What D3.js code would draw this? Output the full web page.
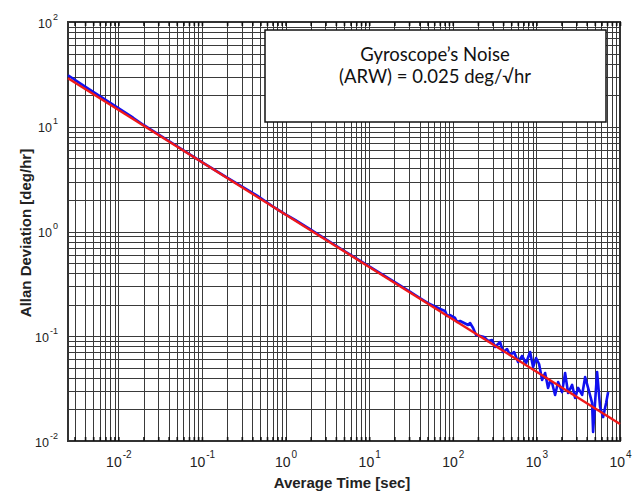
<!DOCTYPE html>
<html><head><meta charset="utf-8">
<script src="https://cdn.jsdelivr.net/npm/d3@7"></script>
<style>
html,body{margin:0;padding:0;background:#fff;}
svg{display:block;}
</style></head>
<body>
<svg id="chart" width="640" height="491"></svg>
<script>
// ---- data ----
const xTickValues = [1e-2, 1e-1, 1e0, 1e1, 1e2, 1e3, 1e4];
const xTickExponents = ["-2", "-1", "0", "1", "2", "3", "4"];
const yTickValues = [1e-2, 1e-1, 1e0, 1e1, 1e2];
const yTickExponents = ["-2", "-1", "0", "1", "2"];

// measured Allan deviation (blue)
const blueTau = [0.0025, 0.004, 0.006, 0.01, 0.015, 0.02, 0.05, 0.1, 0.2, 0.456, 0.7, 1, 1.3, 2, 5, 10, 20, 30, 40, 50,
  70.5, 80.9, 85.5, 92.8, 106.5, 112.6, 122.3, 136.6, 152.4, 161.0, 174.9, 190.0, 212.1, 236.8, 264.4, 295.2, 320.6,
  368.0, 399.6, 446.2, 484.6, 541.1, 604.0, 674.5, 753.3, 840.5, 912.9, 991.7, 1077, 1170, 1271, 1380, 1460, 1541,
  1674, 1819, 2029, 2205, 2395, 2675, 2906, 3157, 3524, 3828, 4155, 4638, 4768, 5322, 5781, 6281, 6823, 7211];
const blueSigma = [31.0, 24.2, 19.6, 15.1, 12.2, 10.4, 6.55, 4.6, 3.27, 2.20, 1.74, 1.46, 1.29, 1.04, 0.655, 0.465, 0.33, 0.27, 0.233, 0.208,
  0.1820, 0.1742, 0.1561, 0.1595, 0.1494, 0.1368, 0.1398, 0.1338, 0.1281, 0.1338, 0.1199, 0.1027, 0.1005, 0.0984, 0.0901, 0.0921, 0.0790,
  0.0881, 0.0707, 0.0755, 0.0662, 0.0707, 0.0568, 0.0648, 0.0555, 0.0707, 0.0509, 0.0620, 0.0543, 0.0382, 0.0446, 0.0321, 0.0372, 0.0358,
  0.0275, 0.0366, 0.0293, 0.0446, 0.0287, 0.0343, 0.0258, 0.0321, 0.0275, 0.0408, 0.0321, 0.0231, 0.0122, 0.0456, 0.0211, 0.0169, 0.0231, 0.0293];

// ARW fit line (red)
const redTau = [0.0025, 10000];
const redSigma = [29.0, 0.0145];

const boxLines = ["Gyroscope\u2019s Noise", "(ARW) = 0.025 deg/\u221Ahr"];
const xTitle = "Average Time [sec]";
const yTitle = "Allan Deviation [deg/hr]";

// ---- layout ----
const L = 68, R = 620, T = 22, B = 441;
const svg = d3.select("#chart");
const x = d3.scaleLog().domain([0.0025, 1e4]).range([L, R]);
const y = d3.scaleLog().domain([0.01, 100]).range([B, T]);

const gridColor = "#3a3a3a";

// grid (all 1..9 per decade)
const gx = svg.append("g").attr("transform", `translate(0,${B})`)
  .call(d3.axisBottom(x).ticks(20).tickSize(-(B - T)).tickFormat(""));
gx.select(".domain").remove();
gx.selectAll(".tick line").attr("stroke", gridColor).attr("stroke-width", 1).attr("shape-rendering", "crispEdges");

const gy = svg.append("g").attr("transform", `translate(${L},0)`)
  .call(d3.axisLeft(y).ticks(20).tickSize(-(R - L)).tickFormat(""));
gy.select(".domain").remove();
gy.selectAll(".tick line").attr("stroke", gridColor).attr("stroke-width", 1).attr("shape-rendering", "crispEdges");

// frame
svg.append("rect").attr("x", L).attr("y", T).attr("width", R - L).attr("height", B - T)
  .attr("fill", "none").attr("stroke", "#333").attr("stroke-width", 1.2).attr("shape-rendering", "crispEdges");

// small inner tick marks on bottom/top
[B, T].forEach(pos => {
  const g = svg.append("g").attr("transform", `translate(0,${pos})`)
    .call((pos === B ? d3.axisBottom(x) : d3.axisTop(x)).ticks(20).tickSize(-4).tickFormat(""));
  g.select(".domain").remove();
  g.selectAll(".tick line").attr("stroke", "#111").attr("stroke-width", 1.6);
});

// lines
const line = d3.line().x(d => x(d[0])).y(d => y(d[1]));
svg.append("path").datum(blueTau.map((t, i) => [t, blueSigma[i]]))
  .attr("d", line).attr("fill", "none").attr("stroke", "#1010f0").attr("stroke-width", 2.6)
  .attr("stroke-linejoin", "round");
svg.append("path").datum(redTau.map((t, i) => [t, redSigma[i]]))
  .attr("d", line).attr("fill", "none").attr("stroke", "#f01818").attr("stroke-width", 2.4);

// x tick labels
const xa = svg.append("g").attr("transform", `translate(0,${B})`)
  .call(d3.axisBottom(x).tickValues(xTickValues).tickSize(0).tickPadding(0).tickFormat(""));
xa.select(".domain").remove();
xa.selectAll(".tick text").each(function(d, i) {
  const t = d3.select(this).attr("y", 26).attr("dy", 0)
    .attr("font-family", "Liberation Sans, Arial, sans-serif").attr("fill", "#222").attr("text-anchor", "middle");
  t.append("tspan").attr("font-size", 14).text("10");
  t.append("tspan").attr("font-size", 10).attr("dy", -9).attr("dx", 1).text(xTickExponents[i]);
});

// y tick labels
const ya = svg.append("g").attr("transform", `translate(${L},0)`)
  .call(d3.axisLeft(y).tickValues(yTickValues).tickSize(0).tickPadding(0).tickFormat(""));
ya.select(".domain").remove();
ya.selectAll(".tick text").each(function(d, i) {
  const t = d3.select(this).attr("x", -10).attr("y", 5).attr("dy", 0)
    .attr("font-family", "Liberation Sans, Arial, sans-serif").attr("fill", "#222").attr("text-anchor", "end");
  t.append("tspan").attr("font-size", 12.5).text("10");
  t.append("tspan").attr("font-size", 9).attr("dy", -8).attr("dx", 1).text(yTickExponents[i]);
});

// axis titles
svg.append("text").attr("x", 342).attr("y", 488).attr("text-anchor", "middle")
  .attr("font-family", "Liberation Sans, Arial, sans-serif").attr("font-weight", "bold")
  .attr("font-size", 15).attr("fill", "#222").text(xTitle);
svg.append("text").attr("transform", "translate(31,233) rotate(-90)").attr("text-anchor", "middle")
  .attr("font-family", "Liberation Sans, Arial, sans-serif").attr("font-weight", "bold")
  .attr("font-size", 15).attr("fill", "#222").text(yTitle);

// annotation box
svg.append("rect").attr("x", 265).attr("y", 30).attr("width", 341).attr("height", 92)
  .attr("fill", "#fff").attr("stroke", "#111").attr("stroke-width", 1.5);
boxLines.forEach((s, i) => {
  svg.append("text").attr("x", 435).attr("y", 61 + i * 22).attr("text-anchor", "middle")
    .attr("font-family", "Lato, 'Open Sans', sans-serif").attr("font-size", 18.5).attr("fill", "#111").text(s);
});
</script>
</body></html>
